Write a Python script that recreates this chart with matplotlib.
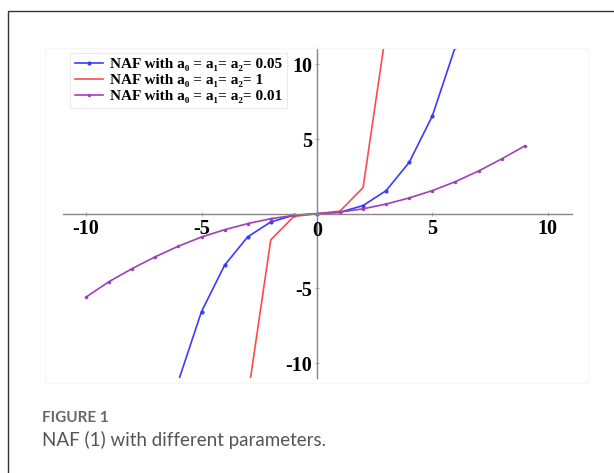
#!/usr/bin/env python3
import matplotlib
matplotlib.use("Agg")
import matplotlib.pyplot as plt
from matplotlib.patches import Rectangle

# values
x_blue = [-6, -5, -4, -3, -2, -1, 0, 1, 2, 3, 4, 5, 6]
y_blue = [-11.2, -6.55, -3.45, -1.55, -0.55, -0.1, 0, 0.1, 0.55, 1.55, 3.45, 6.55, 11.2]

x_red = [-3, -2, -1, 0, 1, 2, 3]
y_red = [-12.3, -1.75, -0.18, 0, 0.18, 1.75, 12.3]

x_purple = [-10, -9, -8, -7, -6, -5, -4, -3, -2, -1, 0, 1, 2, 3, 4, 5, 6, 7, 8, 9]
y_purple = [-5.58, -4.54, -3.67, -2.88, -2.17, -1.56, -1.07, -0.66, -0.33, -0.11, 0,
            0.11, 0.33, 0.65, 1.06, 1.55, 2.15, 2.86, 3.67, 4.54]

ticks = [-10, -5, 5, 10]
labels = ["NAF with a\u2080 = a\u2081= a\u2082= 0.05",
          "NAF with a\u2080 = a\u2081= a\u2082= 1",
          "NAF with a\u2080 = a\u2081= a\u2082= 0.01"]

serif = ["Liberation Serif", "DejaVu Serif"]

fig = plt.figure(figsize=(6.14, 4.73), dpi=100)
W, H = 614, 473

# outer frame of the figure panel
fig.patches.append(Rectangle((8 / W, -0.1), 1.2, 1.1 - 11.5 / H, transform=fig.transFigure,
                             fill=False, edgecolor="#333333", linewidth=1.0))
fig.patches.append(Rectangle((45 / W, 1 - 383 / H), 543 / W, 335 / H, transform=fig.transFigure,
                             fill=False, edgecolor="#f6f6f6", linewidth=0.8))

ax = fig.add_axes([63 / W, 1 - 378 / H, 509 / W, 330 / H])
ax.plot(x_blue, y_blue, color="#3b3bff", lw=1.2, marker=".", ms=4, label=labels[0])
ax.plot(x_red, y_red, color="#ff4a4a", lw=1.2, label=labels[1])
ax.plot(x_purple, y_purple, color="#a040b8", lw=1.2, marker=".", ms=3, label=labels[2])

ax.set_xlim(-11, 11.05)
ax.set_ylim(-11, 11.1)

for s in ["top", "right"]:
    ax.spines[s].set_visible(False)
ax.spines["left"].set_position(("data", 0))
ax.spines["bottom"].set_position(("data", 0))
for s in ["left", "bottom"]:
    ax.spines[s].set_color("#888888")
    ax.spines[s].set_linewidth(1.0)

ax.set_xticks(ticks)
ax.set_yticks(ticks)
ax.set_xticklabels([str(t) for t in ticks])
ax.set_yticklabels([str(t) for t in ticks])
ax.tick_params(direction="inout", length=3, color="#aaaaaa", pad=2)
for lab in ax.get_xticklabels() + ax.get_yticklabels():
    lab.set_family(serif)
    lab.set_fontweight("bold")
    lab.set_fontsize(14.5)
ax.text(0, -0.5, "0", ha="center", va="top", family=serif, fontweight="bold", fontsize=14.5)

leg = ax.legend(loc="upper left", bbox_to_anchor=(70 / W, 1 - 53 / H), bbox_transform=fig.transFigure,
                borderaxespad=0, prop={"family": serif, "weight": "bold", "size": 11},
                frameon=True, fancybox=False, handlelength=1.85, labelspacing=0.15,
                borderpad=0.3, handletextpad=0.45)
leg.get_frame().set_edgecolor("#e6e6e6")
leg.get_frame().set_linewidth(0.8)

fig.text(42 / W, 1 - 418 / H, "FIGURE 1", ha="left", va="center", fontsize=11,
         fontweight="bold", color="#666666", family="Lato")
fig.text(42 / W, 1 - 440 / H, "NAF (1) with different parameters.", ha="left", va="center",
         fontsize=13.5, color="#555555", family="Lato")

fig.savefig("out.png", dpi=100)
